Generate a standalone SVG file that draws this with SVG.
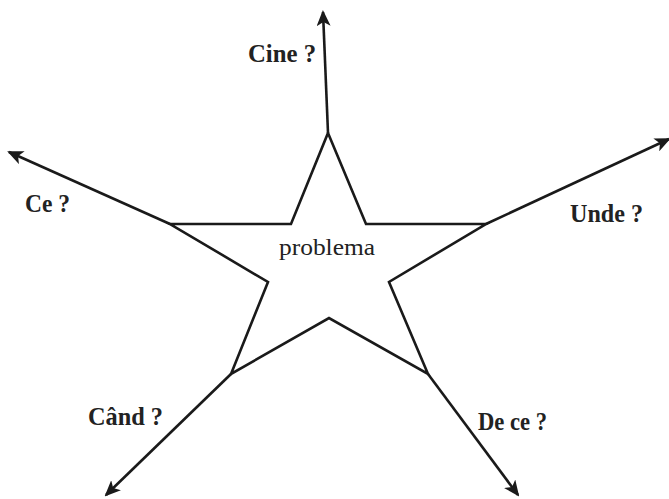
<svg xmlns="http://www.w3.org/2000/svg" width="669" height="499" viewBox="0 0 669 499">
<defs>
<marker id="ah" markerWidth="16" markerHeight="14" refX="14" refY="7" orient="auto" markerUnits="userSpaceOnUse">
<path d="M0,0 L16,7 L0,14 L4,7 Z" fill="#1a1a1a"/>
</marker>
</defs>
<style>
.edge{stroke:#1a1a1a;stroke-width:2.6;fill:none;marker-end:url(#ah)}
.star{stroke:#1a1a1a;stroke-width:2.6;fill:#fff;stroke-linejoin:miter}
.lbl{font-family:"Liberation Serif",serif;font-weight:bold;font-size:26px;fill:#222}
.ctr{font-family:"Liberation Serif",serif;font-size:24px;fill:#222}
</style>
<rect width="669" height="499" fill="#fff"/>
<g id="connectors">
<line class="edge" x1="328" y1="133" x2="323" y2="12"/>
<line class="edge" x1="170" y1="224" x2="9" y2="152"/>
<line class="edge" x1="486" y1="224" x2="669" y2="139"/>
<line class="edge" x1="231" y1="374" x2="106" y2="495"/>
<line class="edge" x1="428" y1="374" x2="518" y2="495"/>
</g>
<g id="problema">
<polygon class="star" points="328,133 366,224 486,224 389,282 428,374 329,318 231,374 268,282 170,224 291,224"/>
<text class="ctr" x="279" y="255" textLength="96" lengthAdjust="spacingAndGlyphs">problema</text>
</g>
<g id="cine"><text class="lbl" x="248" y="62" textLength="68" lengthAdjust="spacingAndGlyphs">Cine ?</text></g>
<g id="ce"><text class="lbl" x="25" y="212" textLength="45" lengthAdjust="spacingAndGlyphs">Ce ?</text></g>
<g id="unde"><text class="lbl" x="570" y="222" textLength="73" lengthAdjust="spacingAndGlyphs">Unde ?</text></g>
<g id="cand"><text class="lbl" x="88" y="425" textLength="75" lengthAdjust="spacingAndGlyphs">Când ?</text></g>
<g id="dece"><text class="lbl" x="478" y="430" textLength="69" lengthAdjust="spacingAndGlyphs">De ce ?</text></g>
</svg>
